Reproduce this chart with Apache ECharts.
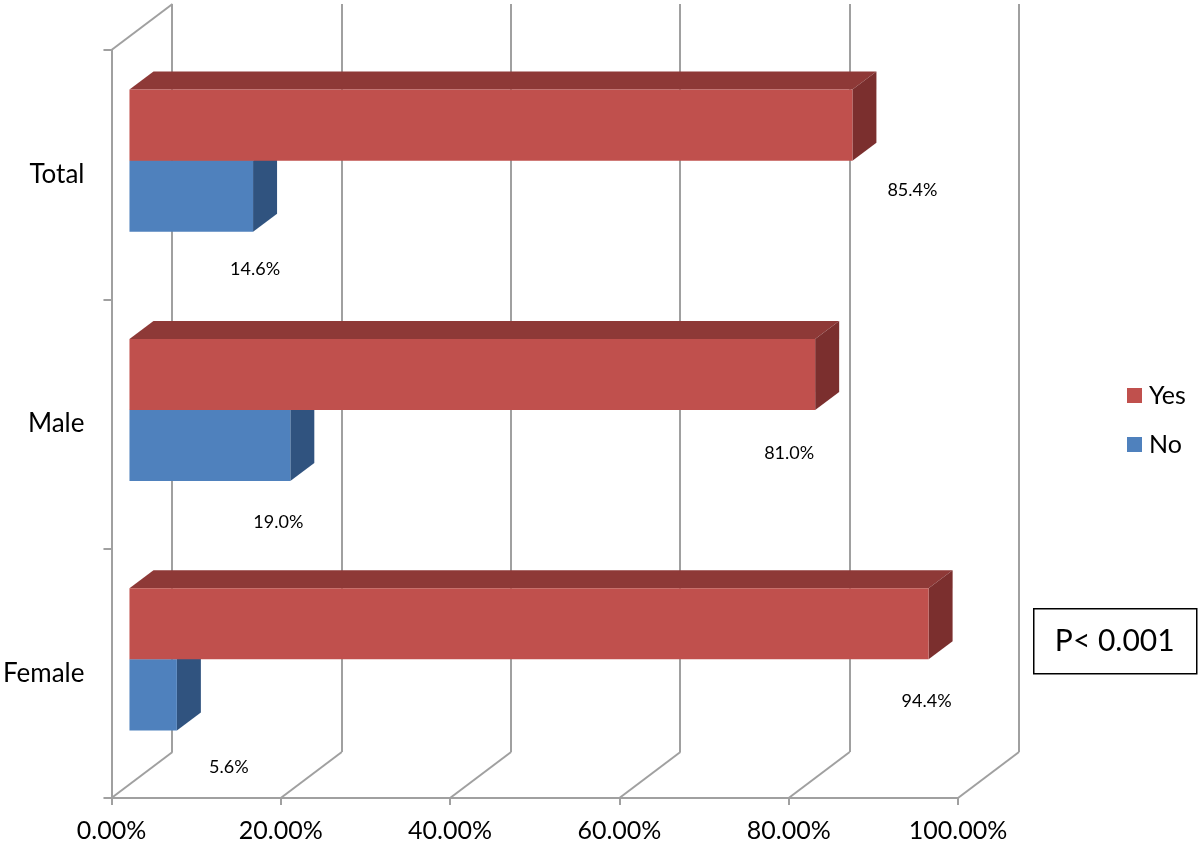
<!DOCTYPE html>
<html>
<head>
<meta charset="utf-8">
<script src="https://cdn.jsdelivr.net/npm/echarts@6/dist/echarts.min.js"></script>
<style>
    html, body { margin: 0; background: #fff; }
    #main { width: 1200px; height: 846px; }
</style>
</head>
<body>
<div id="main"></div>
<script>
var categories = ['Total', 'Male', 'Female'];
var yesValues = [85.4, 81.0, 94.4];
var noValues = [14.6, 19.0, 5.6];
var xTicks = [0, 20, 40, 60, 80, 100];

// label nudges from the bar's lower right front corner (px), as placed in the source
var yesLabelShift = [[60, 30], [-26, 43], [-2, 42]];
var noLabelShift = [[2, 37], [-12, 41], [52, 37]];

var WALL_DX = 61, WALL_DY = -46;   // depth of the 3d box
var BAR_X = 18, BAR_Y = -14;       // where the bars sit inside the box
var BAR_DX = 24, BAR_DY = -18;     // bar thickness
var GRID_COLOR = '#A0A0A0';
var FONT = 'Lato';

var myChart = echarts.init(document.getElementById('main'));

function barRenderer(shift, colors, upper) {
    return function (params, api) {
        var i = params.dataIndex;
        var v = api.value(0);
        var base = api.coord([0, i]);
        var end = api.coord([v, i]);
        var h = api.size([0, 1])[1] * 0.285;
        var x0 = base[0] + BAR_X;
        var x1 = end[0] + BAR_X;
        var yMid = base[1] + BAR_Y;
        var y0 = upper ? yMid - h : yMid;
        var y1 = upper ? yMid : yMid + h;
        return {
            type: 'group',
            children: [
                {
                    type: 'polygon',
                    shape: { points: [[x0, y0], [x1, y0], [x1 + BAR_DX, y0 + BAR_DY], [x0 + BAR_DX, y0 + BAR_DY]] },
                    style: { fill: colors[1] }
                },
                {
                    type: 'polygon',
                    shape: { points: [[x1, y0], [x1 + BAR_DX, y0 + BAR_DY], [x1 + BAR_DX, y1 + BAR_DY], [x1, y1]] },
                    style: { fill: colors[2] }
                },
                {
                    type: 'rect',
                    shape: { x: x0, y: y0, width: x1 - x0, height: y1 - y0 },
                    style: { fill: colors[0] }
                },
                {
                    type: 'text',
                    x: x1 + shift[i][0],
                    y: y1 + shift[i][1],
                    style: {
                        text: v.toFixed(1) + '%',
                        fontSize: 18,
                        fontFamily: FONT,
                        fill: '#000',
                        align: 'center',
                        verticalAlign: 'middle'
                    }
                }
            ]
        };
    };
}

function wallRenderer(params, api) {
    var cs = params.coordSys;
    var x = api.coord([api.value(0), 0])[0];
    var bottom = cs.y + cs.height;
    var lineStyle = { stroke: GRID_COLOR, lineWidth: 2 };
    var children = [{
        type: 'line',
        shape: { x1: x, y1: bottom, x2: x + WALL_DX, y2: bottom + WALL_DY },
        style: lineStyle
    }];
    if (params.dataIndex === 0) {
        children.push({
            type: 'line',
            shape: { x1: cs.x, y1: cs.y, x2: cs.x + WALL_DX, y2: cs.y + WALL_DY },
            style: lineStyle
        });
    }
    return { type: 'group', children: children };
}

var option = {
    animation: false,
    backgroundColor: '#fff',
    grid: [
        { left: 111, right: 242, top: 50, bottom: 48 },
        { left: 172, right: 181, top: 4, bottom: 94 }
    ],
    xAxis: [
        {
            gridIndex: 0,
            type: 'value',
            min: 0,
            max: 100,
            interval: 20,
            splitLine: { show: false },
            axisLine: { show: true, lineStyle: { color: GRID_COLOR, width: 2 } },
            axisTick: { show: true, length: 7, lineStyle: { color: GRID_COLOR, width: 2 } },
            axisLabel: {
                fontSize: 25,
                fontFamily: FONT,
                color: '#000',
                margin: 20,
                formatter: function (v) { return v.toFixed(2) + '%'; }
            }
        },
        {
            gridIndex: 1,
            type: 'value',
            min: 0,
            max: 100,
            interval: 20,
            axisLine: { show: false },
            axisTick: { show: false },
            axisLabel: { show: false },
            splitLine: { show: true, lineStyle: { color: GRID_COLOR, width: 2 } }
        }
    ],
    yAxis: [
        {
            gridIndex: 0,
            type: 'category',
            inverse: true,
            data: categories,
            axisLine: { show: true, lineStyle: { color: GRID_COLOR, width: 2 } },
            axisTick: { show: true, length: 8, lineStyle: { color: GRID_COLOR, width: 2 } },
            axisLabel: { fontSize: 26, fontFamily: FONT, color: '#000', margin: 27 }
        },
        { gridIndex: 1, type: 'value', show: false }
    ],
    legend: {
        data: ['Yes', 'No'],
        orient: 'vertical',
        left: 1122,
        top: 378,
        itemWidth: 15,
        itemHeight: 15,
        itemGap: 24,
        icon: 'rect',
        textStyle: { fontSize: 25, fontFamily: FONT, color: '#000', padding: [0, 0, 0, 2] }
    },
    graphic: [{
        type: 'group',
        left: 1033,
        top: 608,
        children: [
            {
                type: 'rect',
                shape: { x: 0, y: 0, width: 163, height: 65 },
                style: { fill: '#fff', stroke: '#000', lineWidth: 1.5 }
            },
            {
                type: 'text',
                x: 81,
                y: 33,
                style: {
                    text: 'P< 0.001',
                    fontSize: 30,
                    fontFamily: FONT,
                    fill: '#000',
                    align: 'center',
                    verticalAlign: 'middle'
                }
            }
        ]
    }],
    series: [
        {
            type: 'custom',
            name: 'walls',
            xAxisIndex: 0,
            yAxisIndex: 0,
            z: 1,
            silent: true,
            data: xTicks.map(function (t) { return [t, 0]; }),
            encode: { x: 0, y: 1 },
            renderItem: wallRenderer
        },
        {
            type: 'custom',
            name: 'Yes',
            xAxisIndex: 0,
            yAxisIndex: 0,
            z: 4,
            itemStyle: { color: '#C0504D' },
            data: categories.map(function (c, i) { return [yesValues[i], c]; }),
            encode: { x: 0, y: 1 },
            renderItem: barRenderer(yesLabelShift, ['#C0504D', '#8E3937', '#7B2F2E'], true)
        },
        {
            type: 'custom',
            name: 'No',
            xAxisIndex: 0,
            yAxisIndex: 0,
            z: 3,
            itemStyle: { color: '#4F81BD' },
            data: categories.map(function (c, i) { return [noValues[i], c]; }),
            encode: { x: 0, y: 1 },
            renderItem: barRenderer(noLabelShift, ['#4F81BD', '#3A5F8C', '#30537F'], false)
        }
    ]
};

myChart.setOption(option);
</script>
</body>
</html>
